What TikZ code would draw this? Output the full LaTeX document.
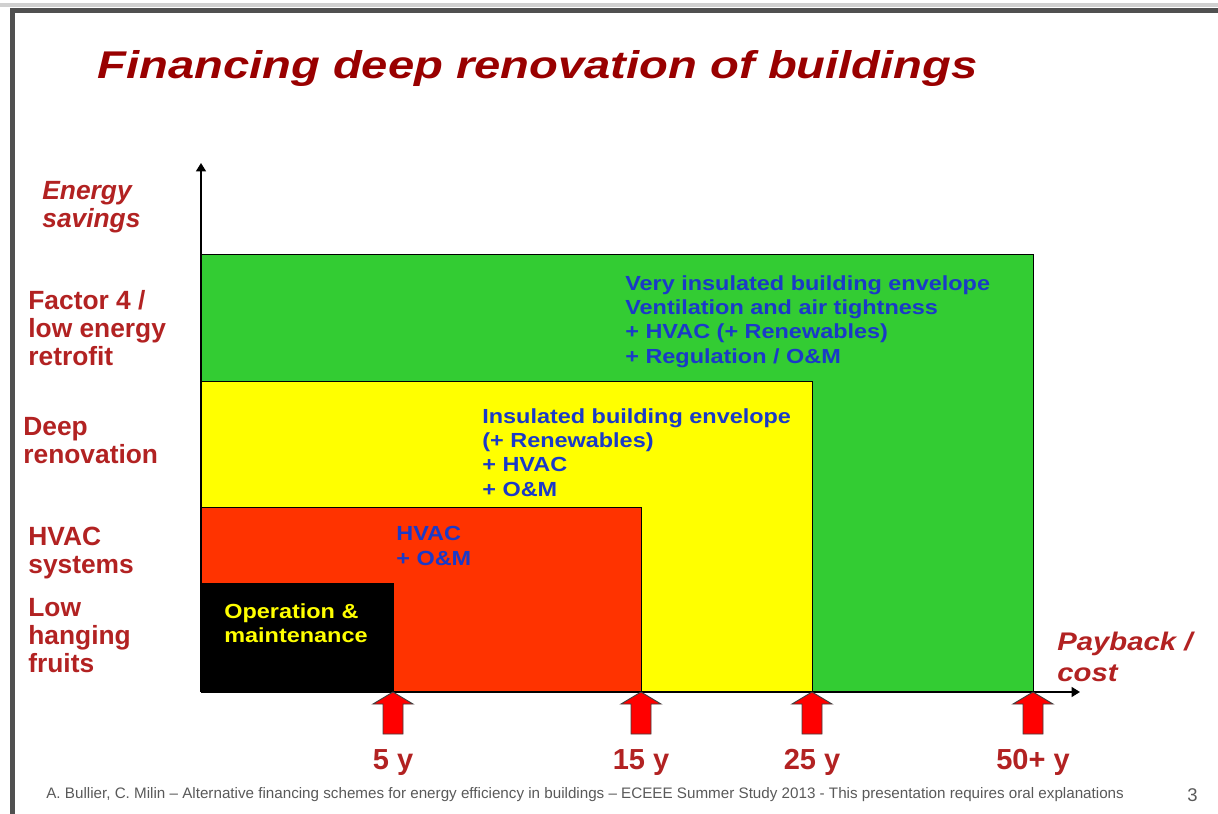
\documentclass[tikz,border=0pt]{standalone}
\usepackage{fontspec}
\setmainfont{Liberation Sans}
\newfontfamily\widesans[FakeStretch=1.15]{Liberation Sans}
\newfontfamily\titlesans[FakeStretch=1.22]{Liberation Sans}
\usepackage{xcolor}
\usepackage{tikz}
\usetikzlibrary{arrows.meta}

\definecolor{titlered}{HTML}{990000}
\definecolor{lblred}{HTML}{B22222}
\definecolor{noteblue}{HTML}{1A3AC8}
\definecolor{zgreen}{HTML}{33CC33}
\definecolor{zyellow}{HTML}{FFFF00}
\definecolor{zred}{HTML}{FF3300}
\definecolor{arrowred}{HTML}{FF0000}
\definecolor{arrowedge}{HTML}{404040}
\definecolor{framelight}{HTML}{D0D0D0}
\definecolor{framedark}{HTML}{505050}
\definecolor{footgray}{HTML}{595959}

\begin{document}
\begin{tikzpicture}[
    x=0.02cm, y=-0.02cm,
    lbl/.style={anchor=north west, inner sep=0, align=left, text=lblred, font=\bfseries\fontsize{15}{15.9}\selectfont},
    axislbl/.style={lbl, font=\widesans\bfseries\itshape\fontsize{14.5}{17.6}\selectfont},
    note/.style={anchor=north west, inner sep=0, align=left, text=noteblue, font=\widesans\bfseries\fontsize{11.6}{13.9}\selectfont},
    years/.style={anchor=base, inner sep=0, text=lblred, font=\bfseries\fontsize{16.5}{18}\selectfont},
    band/.style={draw=black, line width=0.5pt},
    axis/.style={-{Triangle[width=0.2cm,length=0.17cm]}, line width=1pt},
    uparrow/.pic={\draw[fill=arrowred, draw=arrowedge, line width=0.5pt] (0,0) -- (20,12) -- (10,12) -- (10,42) -- (-10,42) -- (-10,12) -- (-20,12) -- cycle;}
]
\useasboundingbox (0,0) rectangle (1218,814);
\fill[framelight] (0,3) rectangle (1218,7);
\fill[framedark] (10,8) rectangle (1218,13);\fill[framedark] (10,8) rectangle (15,814);

\node[anchor=north west, inner sep=0, text=titlered, font=\titlesans\bfseries\itshape\fontsize{22}{26}\selectfont] (title) at (97,50) {Financing deep renovation of buildings};

\coordinate (O) at (201,692);\coordinate (ytip) at (201,163);\coordinate (xtip) at (1080,692);
\coordinate (p5) at (393,692);\coordinate (p15) at (641,692);
\coordinate (p25) at (812,692);\coordinate (p50) at (1033,692);
\draw[band, fill=zgreen] (O) rectangle (1033,254);
\draw[band, fill=zyellow] (O) rectangle (812,381);
\draw[band, fill=zred] (O) rectangle (641,507);
\draw[band, fill=black] (O) rectangle (393,583);
\draw[axis] (O) -- (ytip);\draw[axis] (O) -- (xtip);

\node[note] (envelope) at (625,275) {Very insulated building envelope\\Ventilation and air tightness\\+ HVAC (+ Renewables)\\+ Regulation / O\&M};
\node[note] (insulated) at (482,408) {Insulated building envelope\\(+ Renewables)\\+ HVAC\\+ O\&M};
\node[note] (hvac) at (396,526) {HVAC\\+ O\&M};
\node[note, text=zyellow] (om) at (224,603) {Operation \&\\maintenance};

\node[lbl, font=\bfseries\itshape\fontsize{15}{15.9}\selectfont] (savings) at (42,181) {Energy\\savings};
\node[lbl] (factor) at (28,290) {Factor 4 /\\low energy\\retrofit};
\node[lbl] (deep) at (23,417) {Deep\\renovation};
\node[lbl] (systems) at (28,527) {HVAC\\systems};
\node[lbl] (fruits) at (28,598) {Low\\hanging\\fruits};
\node[axislbl] (payback) at (1057,632) {Payback /\\cost};

\pic at (p5) {uparrow};\pic at (p15) {uparrow};
\pic at (p25) {uparrow};\pic at (p50) {uparrow};
\node[years] (y5) at (393,769.5) {5 y};\node[years] (y15) at (641,769.5) {15 y};
\node[years] (y25) at (812,769.5) {25 y};\node[years] (y50) at (1033,769.5) {50+ y};

\node[anchor=base west, inner sep=0, text=footgray, font=\fontsize{8.65}{10}\selectfont] (credits) at (46,798) {A. Bullier, C. Milin -- Alternative financing schemes for energy efficiency in buildings -- ECEEE Summer Study 2013 - This presentation requires oral explanations};
\node[anchor=base west, inner sep=0, text=footgray, font=\fontsize{10.5}{12}\selectfont] (page) at (1187,801) {3};
\end{tikzpicture}
\end{document}
